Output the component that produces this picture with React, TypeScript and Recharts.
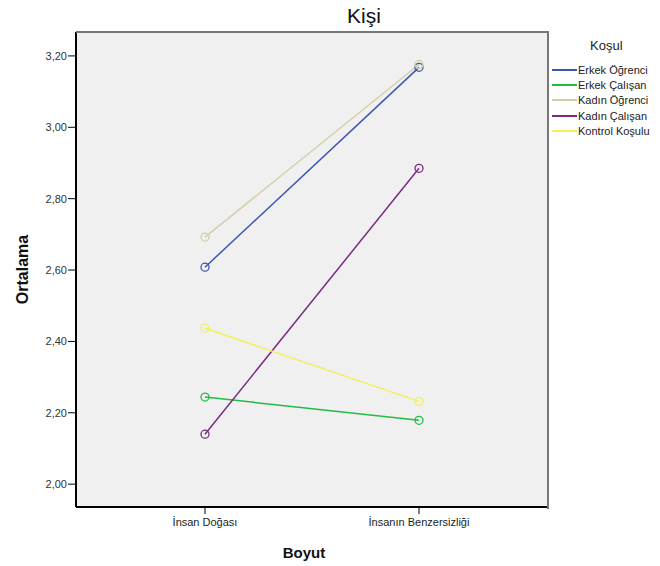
import { LineChart, Line, XAxis, YAxis, CartesianGrid } from "recharts";

const categories = ["İnsan Doğası", "İnsanın Benzersizliği"];
const erkekOgrenci = [2.608, 3.168];
const erkekCalisan = [2.244, 2.179];
const kadinOgrenci = [2.692, 3.176];
const kadinCalisan = [2.14, 2.885];
const kontrolKosulu = [2.437, 2.232];
const yTicks = [2.0, 2.2, 2.4, 2.6, 2.8, 3.0, 3.2];

const seriesList = [
  { key: "erkekOgrenci", name: "Erkek Öğrenci", color: "#3d56b0", values: erkekOgrenci },
  { key: "erkekCalisan", name: "Erkek Çalışan", color: "#22bb44", values: erkekCalisan },
  { key: "kadinOgrenci", name: "Kadın Öğrenci", color: "#d4cfa6", values: kadinOgrenci },
  { key: "kadinCalisan", name: "Kadın Çalışan", color: "#7a2a82", values: kadinCalisan },
  { key: "kontrolKosulu", name: "Kontrol Koşulu", color: "#f4f05a", values: kontrolKosulu },
];

const chartData = categories.map((cat, i) => {
  const row: Record<string, string | number> = { cat };
  seriesList.forEach((s) => {
    row[s.key] = s.values[i];
  });
  return row;
});

const FONT = "'Liberation Sans', Arial, sans-serif";

function OpenDot(props: any) {
  const { cx, cy, stroke } = props;
  if (cx == null || cy == null) return null;
  return <circle cx={cx} cy={cy} r={4} fill="none" stroke={stroke} strokeWidth={1.3} />;
}

function LegendBox() {
  return (
    <div style={{ position: "absolute", left: 552, top: 38, fontFamily: FONT, fontSize: 11, color: "#222", width: 110 }}>
      <div style={{ fontSize: 13, paddingLeft: 38, marginBottom: 9 }}>Koşul</div>
      {seriesList.map((s) => (
        <div key={s.key} style={{ display: "flex", alignItems: "center", height: 15.3 }}>
          <span style={{ display: "inline-block", width: 25, height: 2, background: s.color, marginRight: 1 }} />
          <span>{s.name}</span>
        </div>
      ))}
    </div>
  );
}

export default function App() {
  return (
    <div style={{ position: "absolute", left: 0, top: 0, width: 660, height: 566, background: "#fff" }}>
      <div
        style={{
          position: "absolute",
          left: 364,
          top: 4,
          transform: "translateX(-50%)",
          fontFamily: FONT,
          fontSize: 21,
          color: "#111",
        }}
      >
        Kişi
      </div>
      <LineChart
        width={660}
        height={566}
        data={chartData}
        margin={{ top: 32, right: 112, bottom: 0, left: 0 }}
        style={{ fontFamily: FONT }}
      >
        <CartesianGrid horizontal={false} vertical={false} fill="#f0f0f0" />
        <XAxis
          dataKey="cat"
          height={59}
          padding={{ left: 129, right: 129 }}
          axisLine={{ stroke: "#000", strokeWidth: 2 }}
          tickLine={{ stroke: "#000" }}
          tickSize={7}
          tickMargin={4}
          tick={{ fontSize: 11, fill: "#222" }}
          label={{
            value: "Boyut",
            position: "insideBottom",
            offset: 8,
            dx: -8,
            style: { fontSize: 15, fontWeight: "bold", fill: "#111" },
          }}
        />
        <YAxis
          width={76}
          domain={[1.936, 3.267]}
          ticks={yTicks}
          allowDataOverflow
          axisLine={{ stroke: "#000", strokeWidth: 2 }}
          tickLine={{ stroke: "#000" }}
          tickSize={8}
          tickMargin={1}
          tick={{ fontSize: 11, fill: "#333" }}
          tickFormatter={(v: number) => v.toFixed(2).replace(".", ",")}
          label={{
            value: "Ortalama",
            angle: -90,
            position: "insideLeft",
            offset: 22,
            style: { fontSize: 16, fontWeight: "bold", fill: "#111", textAnchor: "middle" },
          }}
        />
        {seriesList.map((s) => (
          <Line
            key={s.key}
            type="linear"
            dataKey={s.key}
            name={s.name}
            stroke={s.color}
            strokeWidth={1.5}
            dot={<OpenDot />}
            activeDot={false}
            isAnimationActive={false}
          />
        ))}
      </LineChart>
      <div
        style={{
          position: "absolute",
          left: 76,
          top: 31,
          width: 471,
          height: 476,
          borderTop: "2px solid #777",
          borderRight: "2px solid #777",
          pointerEvents: "none",
        }}
      />
      <LegendBox />
    </div>
  );
}
